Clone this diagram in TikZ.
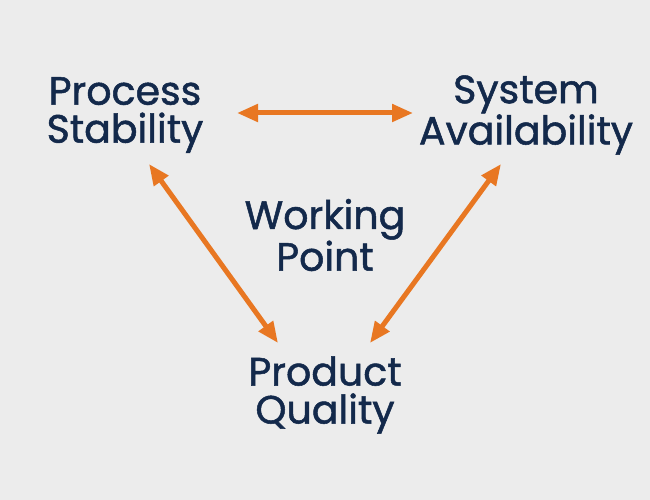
\documentclass[tikz,border=0pt]{standalone}
\usepackage{fontspec}
\setmainfont{Poppins}[UprightFeatures={FakeBold=1.3}]
\usepackage{xcolor}
\usetikzlibrary{calc, arrows.meta}
\definecolor{navy}{HTML}{13294B}
\definecolor{accent}{HTML}{E87722}
\definecolor{paper}{HTML}{ECECEC}

\begin{document}
\begin{tikzpicture}[
    x = 1pt, y = -1pt,
    every node/.style = {
        align=center, text=navy, inner sep=2pt,
        font=\fontsize{39.5}{38}\selectfont
    },
    link/.style = {
        draw=accent, line width=5pt,
        {Triangle[length=21pt,width=17pt]}-{Triangle[length=21pt,width=17pt]}
    }
  ]
    \fill[paper] (0,0) rectangle (650,500);  % 背景
    \node (ps) at (125,115) {Process\\Stability};
    \node (sa) at (526,115) {System\\Availability};
    \node (wp) at (325,235) {Working\\Point};
    \node (pq) at (325,395) {Product\\Quality};
    % 双向箭头
    \draw[link] ($(ps)+(112,-2)$) -- ($(sa)+(-113,-2)$);
    \draw[link] ($(ps)+(24,49)$) -- ($(pq)+(-47,-52)$);
    \draw[link] ($(sa)+(-25,49)$) -- ($(pq)+(45,-52)$);
\end{tikzpicture}
\end{document}
